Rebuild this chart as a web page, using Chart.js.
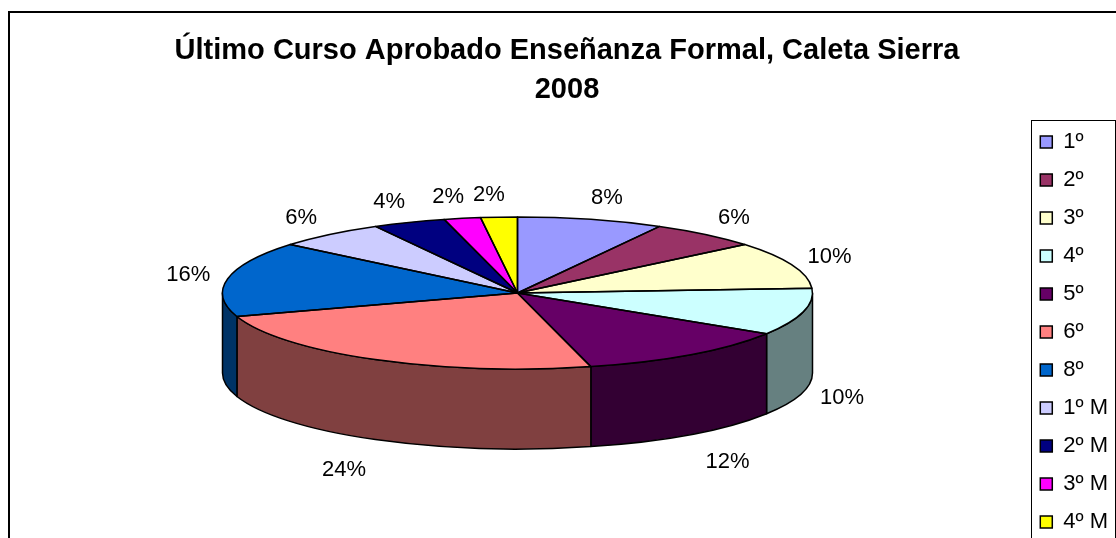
<!DOCTYPE html>
<html>
<head>
<meta charset="utf-8">
<script src="https://cdn.jsdelivr.net/npm/chart.js@4.4.1/dist/chart.umd.min.js"></script>
<style>
  html, body { margin: 0; padding: 0; background: #fff; overflow: hidden; }
  #frame { position: absolute; left: 8px; top: 11px; width: 1200px; height: 600px; border: 2px solid #000; }
  #pie { position: absolute; left: 0; top: 0; }
</style>
</head>
<body>
<div id="frame"></div>
<canvas id="pie" width="1134" height="580"></canvas>
<script>
const courses = ["1º", "2º", "3º", "4º", "5º", "6º", "8º", "1º M", "2º M", "3º M", "4º M"];
const shares = [8, 6, 10, 10, 12, 24, 16, 6, 4, 2, 2];
const titleLines = ["Último Curso Aprobado Enseñanza Formal, Caleta Sierra", "2008"];

const faceColors = ["#9999FF", "#993366", "#FFFFCC", "#CCFFFF", "#660066", "#FF8080",
  "#0066CC", "#CCCCFF", "#000080", "#FF00FF", "#FFFF00"];
const wallColors = faceColors.map(c => shade(c, 0.5));
const FONT = "'Liberation Sans', Arial, sans-serif";

// where the flattened pie sits on the page
const CX = 517.5, CY = 293, RX = 295, RY = 76, DEPTH = 80;

function shade(hex, k) {
  const n = parseInt(hex.slice(1), 16);
  const r = Math.round(((n >> 16) & 255) * k);
  const g = Math.round(((n >> 8) & 255) * k);
  const b = Math.round((n & 255) * k);
  return "rgb(" + r + "," + g + "," + b + ")";
}

const pie3d = {
  id: "pie3d",
  beforeDatasetsDraw(chart) {
    const ctx = chart.ctx;
    const arcs = chart.getDatasetMeta(0).data;
    // side walls, front half only
    ctx.save();
    ctx.lineWidth = 1.5;
    ctx.strokeStyle = "#000";
    ctx.lineJoin = "round";
    arcs.forEach((arc, i) => {
      const t0 = Math.max(arc.startAngle, 0);
      const t1 = Math.min(arc.endAngle, Math.PI);
      if (t1 <= t0) return;
      ctx.beginPath();
      ctx.ellipse(CX, CY, RX, RY, 0, t0, t1);
      ctx.ellipse(CX, CY + DEPTH, RX, RY, 0, t1, t0, true);
      ctx.closePath();
      ctx.fillStyle = wallColors[i];
      ctx.fill();
      ctx.stroke();
    });
    ctx.restore();
    // squash the library's round pie into the top face
    const a = arcs[0];
    ctx.save();
    ctx.translate(CX, CY);
    ctx.scale(RX / a.outerRadius, RY / a.outerRadius);
    ctx.translate(-a.x, -a.y);
  },
  afterDatasetsDraw(chart) {
    const ctx = chart.ctx;
    ctx.restore();
    const arcs = chart.getDatasetMeta(0).data;
    const total = shares.reduce((s, v) => s + v, 0);
    ctx.save();
    ctx.lineWidth = 1.5;
    ctx.strokeStyle = "#000";
    ctx.lineJoin = "round";
    arcs.forEach(arc => {
      ctx.beginPath();
      ctx.moveTo(CX, CY);
      ctx.ellipse(CX, CY, RX, RY, 0, arc.startAngle, arc.endAngle);
      ctx.closePath();
      ctx.stroke();
    });
    ctx.font = "22px " + FONT;
    ctx.fillStyle = "#000";
    ctx.textAlign = "center";
    ctx.textBaseline = "middle";
    arcs.forEach((arc, i) => {
      const mid = (arc.startAngle + arc.endAngle) / 2;
      const c = Math.cos(mid), s = Math.sin(mid);
      let x, y;
      if (s > 0) {
        x = CX + (RX + 30 + 40 * s) * c;
        y = CY + (RY + 22 + 14 * s) * s + DEPTH;
      } else {
        x = CX + (RX + 32) * c + 8 * Math.sign(c);
        y = CY + (RY + 22) * s;
      }
      ctx.fillText(Math.round(shares[i] / total * 100) + "%", x, y);
    });
    ctx.restore();
  },
  afterDraw(chart) {
    const lg = chart.legend;
    const ctx = chart.ctx;
    ctx.save();
    ctx.strokeStyle = "#000";
    ctx.lineWidth = 1;
    const bx = Math.round(lg.left + lg.options.labels.padding - 9) + 0.5;
    ctx.strokeRect(bx, Math.round(lg.top + 5) + 0.5, 84, 600);
    ctx.restore();
  }
};

new Chart(document.getElementById("pie"), {
  type: "pie",
  data: {
    labels: courses,
    datasets: [{ data: shares, backgroundColor: faceColors, borderWidth: 0, clip: false }]
  },
  options: {
    responsive: false,
    animation: false,
    events: [],
    layout: { padding: { top: 10, left: 16, right: 16, bottom: 0 } },
    plugins: {
      title: {
        display: true,
        text: titleLines,
        color: "#000",
        font: { size: 29, weight: "bold", family: FONT, lineHeight: 1.36 },
        padding: { top: 21, bottom: 5 }
      },
      legend: {
        position: "right",
        align: "start",
        fullSize: false,
        labels: {
          boxWidth: 12,
          boxHeight: 12,
          padding: 16,
          color: "#000",
          font: { size: 22, family: FONT },
          generateLabels(chart) {
            const items = Chart.overrides.doughnut.plugins.legend.labels.generateLabels(chart);
            items.forEach(it => { it.strokeStyle = "#000"; it.lineWidth = 1.5; });
            return items;
          }
        }
      },
      tooltip: { enabled: false }
    }
  },
  plugins: [pie3d]
});
</script>
</body>
</html>
